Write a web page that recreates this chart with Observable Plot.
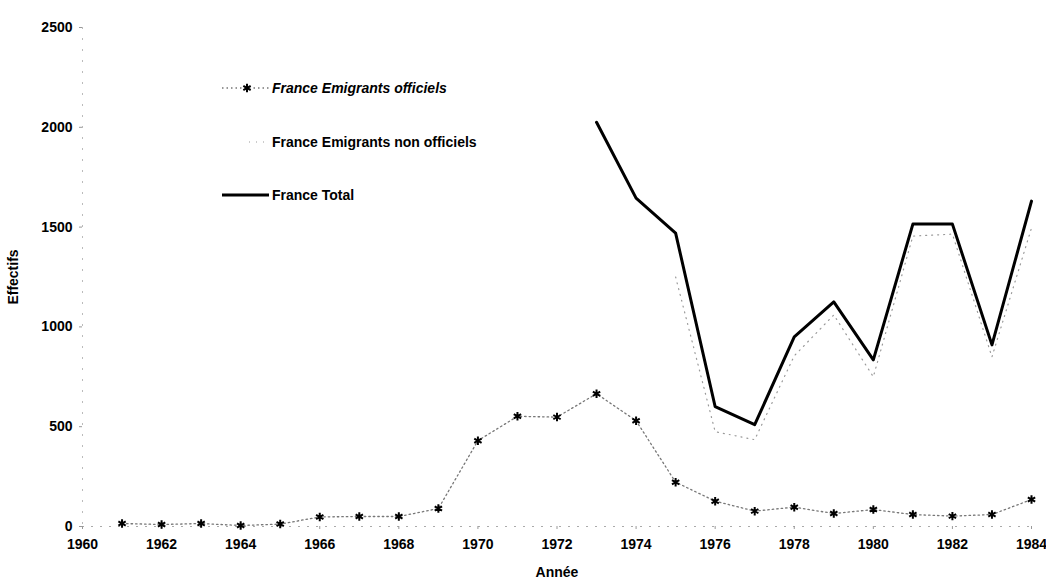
<!DOCTYPE html>
<html><head><meta charset="utf-8">
<script src="https://cdn.jsdelivr.net/npm/d3@7"></script>
<script src="https://cdn.jsdelivr.net/npm/@observablehq/plot@0.6"></script>
<style>
body{margin:0;background:#fff;}
#wrap{position:relative;width:1046px;height:578px;overflow:hidden;}
#legend{position:absolute;left:0;top:0;pointer-events:none;}
</style></head><body><div id="wrap"></div>
<script>
// ---- data ----
const officielsYears = [1961,1962,1963,1964,1965,1966,1967,1968,1969,1970,1971,1972,1973,1974,1975,1976,1977,1978,1979,1980,1981,1982,1983,1984];
const officielsValues = [15,10,15,5,12,48,50,50,90,430,552,548,665,530,222,127,77,97,65,85,60,52,60,135];

const nonOfficielsYears = [1975,1976,1977,1978,1979,1980,1981,1982,1983,1984];
const nonOfficielsValues = [1250,475,435,855,1060,750,1455,1465,850,1495];

const totalYears = [1973,1974,1975,1976,1977,1978,1979,1980,1981,1982,1983,1984];
const totalValues = [2025,1645,1470,600,510,950,1125,835,1515,1515,910,1630];

const xTicks = [1960,1962,1964,1966,1968,1970,1972,1974,1976,1978,1980,1982,1984];
const yTicks = [0,500,1000,1500,2000,2500];

const seriesNames = ["France Emigrants officiels","France Emigrants non officiels","France Total"];
const xLabel = "Année";
const yLabel = "Effectifs";

// ---- tables ----
const off = officielsYears.map((y,i)=>({year:y,value:officielsValues[i]}));
const nonoff = nonOfficielsYears.map((y,i)=>({year:y,value:nonOfficielsValues[i]}));
const total = totalYears.map((y,i)=>({year:y,value:totalValues[i]}));

const chart = Plot.plot({
  width:1046, height:578,
  marginLeft:82, marginRight:15, marginTop:27, marginBottom:52,
  style:{fontFamily:"'Liberation Sans', Arial, sans-serif", fontSize:"14px", fontWeight:"bold", background:"#fff", color:"#000"},
  x:{domain:[1960,1984]},
  y:{domain:[0,2500]},
  marks:[
    Plot.ruleY([0],{stroke:"#aaa", strokeDasharray:"2,7"}),
    Plot.ruleX([1960],{stroke:"#bbb", strokeDasharray:"2,9"}),
    Plot.axisX({ticks:xTicks, tickFormat:d=>String(d), tickSize:3, tickPadding:10, stroke:"#999", fill:"#000",
      label:xLabel, labelAnchor:"center", labelOffset:50, labelArrow:"none"}),
    Plot.axisY({ticks:yTicks, tickFormat:d=>String(d), tickSize:3, tickPadding:7, stroke:"#999", fill:"#000",
      label:yLabel, labelAnchor:"center", labelOffset:74, labelArrow:"none"}),
    Plot.line(off,{x:"year", y:"value", stroke:"#777", strokeWidth:1.3, strokeDasharray:"1.5,3"}),
    Plot.line(nonoff,{x:"year", y:"value", stroke:"#999", strokeWidth:1.2, strokeDasharray:"1,5"}),
    Plot.line(total,{x:"year", y:"value", stroke:"#000", strokeWidth:3}),
    Plot.dot(off,{x:"year", y:"value", symbol:"asterisk", r:4, stroke:"#000", strokeWidth:2})
  ]
});
const wrap = document.getElementById("wrap");
wrap.appendChild(chart);

// ---- legend overlay ----
const legendStyles = [
  {stroke:"#777", width:1.3, dash:"1.5,3", x0:222, x1:270, marker:true, italic:true},
  {stroke:"#999", width:1.2, dash:"1,6", x0:249, x1:266, marker:false, italic:false},
  {stroke:"#000", width:3, dash:null, x0:222, x1:269, marker:false, italic:false}
];
const legendRows = [88,142,195];
const svg = d3.select(wrap).append("svg").attr("id","legend").attr("width",1046).attr("height",578)
  .style("font-family","'Liberation Sans', Arial, sans-serif").style("font-size","14px");
seriesNames.forEach((name,i)=>{
  const s = legendStyles[i], y = legendRows[i];
  const g = svg.append("g");
  const ln = g.append("line").attr("x1",s.x0).attr("x2",s.x1).attr("y1",y).attr("y2",y)
    .attr("stroke",s.stroke).attr("stroke-width",s.width);
  if (s.dash) ln.attr("stroke-dasharray",s.dash);
  if (s.marker) g.append("path").attr("d",d3.symbol(d3.symbolAsterisk,50)()).attr("transform",`translate(247,${y})`)
    .attr("stroke","#000").attr("stroke-width",2).attr("fill","none");
  g.append("text").attr("x",272).attr("y",y).attr("dy","0.35em").attr("font-style",s.italic?"italic":"normal")
    .attr("font-weight","bold").text(name);
});
</script></body></html>
